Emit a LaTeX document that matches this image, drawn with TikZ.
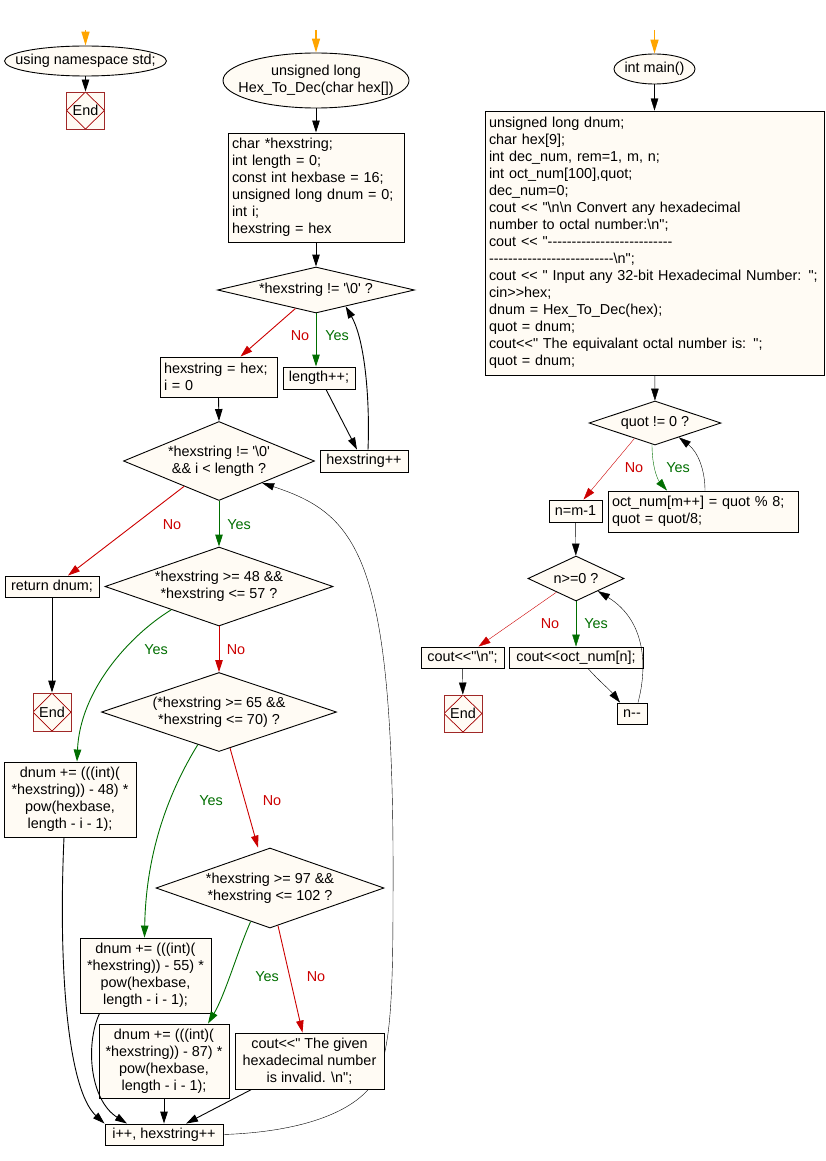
\documentclass[tikz,border=0pt]{standalone}
\usepackage{fontspec}
\setmainfont{Liberation Sans}[Ligatures=TeXOff]
\usetikzlibrary{shapes.geometric,arrows.meta,backgrounds}
\definecolor{boxfill}{RGB}{255,251,244}
\definecolor{yescol}{RGB}{0,110,0}
\definecolor{nocol}{RGB}{204,0,0}
\definecolor{startcol}{RGB}{255,165,0}
\definecolor{endcol}{RGB}{160,40,40}
\newcommand*{\bks}{\textbackslash{}}
\tikzset{
  box/.style={draw, fill=boxfill, inner xsep=4pt, inner ysep=2pt, align=center},
  lbox/.style={box, align=left},
  dec/.style={diamond, draw, fill=boxfill, inner sep=0pt, align=center},
  term/.style={ellipse, draw, fill=boxfill, inner ysep=0pt, align=center},
  endbox/.style={draw=endcol, fill=boxfill, minimum width=38pt, minimum height=37pt, inner sep=0pt,
    path picture={\draw[nocol!80!black, line width=0.7pt] (path picture bounding box.north) -- (path picture bounding box.east) -- (path picture bounding box.south) -- (path picture bounding box.west) -- cycle;}},
  arr/.style={-{Triangle[length=12pt,width=7.5pt]}},
  yesarr/.style={arr, yescol},
  noarr/.style={arr, nocol},
  startarr/.style={startcol, line width=1.5pt, -{Triangle[length=14pt,width=8pt]}},
  yeslab/.style={text=yescol},
  nolab/.style={text=nocol}
}
\begin{document}
\begin{tikzpicture}[x=1pt, y=-1pt, line width=0.9pt, font=\fontsize{14.4}{17}\selectfont]
\useasboundingbox (0,0) rectangle (826,1161);

\coordinate (s1) at (85.5,30);
\coordinate (s2) at (316,30);
\coordinate (s3) at (654.5,30);

\node[term, minimum width=162pt, minimum height=30pt, inner xsep=-14pt] (ns) at (85.5,61) {using namespace std;};
\node[endbox] (end1) at (85.5,110.5) {End};

\node[term, minimum width=186pt, minimum height=55pt, inner xsep=-17pt] (hexfn) at (316,80.5) {unsigned long\\Hex\_To\_Dec(char hex[])};
\node[lbox, text width=168pt, minimum height=109pt] (decl) at (316,187.5) {char *hexstring;\\int length = 0;\\const int hexbase = 16;\\unsigned long dnum = 0;\\int i;\\hexstring = hex};
\node[dec, minimum width=197pt, minimum height=46pt, shape aspect=4.28] (d1) at (316,290) {*hexstring != '\bks0' ?};
\node[lbox, text width=109pt, minimum height=40pt] (hxinit) at (218.5,377) {hexstring = hex;\\i = 0};
\node[box, minimum width=72pt, minimum height=22pt] (len) at (319,378) {length++;};
\node[box, minimum width=88pt, minimum height=22pt] (hxinc) at (364,461) {hexstring++};
\node[dec, minimum width=191pt, minimum height=79pt, shape aspect=2.42] (d2) at (219,461) {*hexstring != '\bks0'\\\&\& i < length ?};
\node[box, minimum width=94pt, minimum height=21pt] (ret) at (52,586.5) {return dnum;};
\node[endbox, minimum height=38pt] (end2) at (52,712) {End};
\node[dec, minimum width=228pt, minimum height=79pt, shape aspect=2.89] (d3) at (219,586.5) {*hexstring >= 48 \&\&\\{}*hexstring <= 57 ?};
\node[dec, minimum width=235pt, minimum height=79pt, shape aspect=2.97] (d4) at (219,712) {(*hexstring >= 65 \&\&\\{}*hexstring <= 70) ?};
\node[box, minimum width=132pt, minimum height=75pt] (add48) at (70,799.5) {dnum += (((int)(\\{}*hexstring)) - 48) *\\pow(hexbase,\\length - i - 1);};
\node[dec, minimum width=228pt, minimum height=80pt, shape aspect=2.85] (d5) at (270,888) {*hexstring >= 97 \&\&\\{}*hexstring <= 102 ?};
\node[box, minimum width=131pt, minimum height=75pt] (add55) at (145.5,975.5) {dnum += (((int)(\\{}*hexstring)) - 55) *\\pow(hexbase,\\length - i - 1);};
\node[box, minimum width=130pt, minimum height=74pt] (add87) at (164,1061) {dnum += (((int)(\\{}*hexstring)) - 87) *\\pow(hexbase,\\length - i - 1);};
\node[box, minimum width=149pt, minimum height=56pt] (inv) at (309.5,1061) {cout<<" The given\\hexadecimal number\\is invalid. \bks n";};
\node[box, minimum width=118pt, minimum height=21pt] (inc) at (164,1134.5) {i++, hexstring++};

\node[term, minimum width=81pt, minimum height=30pt, inner xsep=-2pt] (main) at (654.5,69) {int main()};
\node[lbox, text width=331pt, minimum height=264pt] (body) at (654.5,243) {unsigned long dnum;\\char hex[9];\\int dec\_num, rem=1, m, n;\\int oct\_num[100],quot;\\dec\_num=0;\\cout << "\bks n\bks n Convert any hexadecimal\\number to octal number:\bks n";\\cout << "--------------------------\\--------------------------\bks n";\\cout << " Input any 32-bit Hexadecimal Number: ";\\cin>>hex;\\dnum = Hex\_To\_Dec(hex);\\quot = dnum;\\cout<<" The equivalant octal number is: ";\\quot = dnum;};
\node[dec, minimum width=132pt, minimum height=44pt, shape aspect=3] (dq) at (655,423) {quot != 0 ?};
\node[lbox, text width=182pt, minimum height=41pt] (oct) at (703,511.5) {oct\_num[m++] = quot \% 8;\\quot = quot/8;};
\node[box, minimum width=53pt, minimum height=22pt] (nm) at (575.5,511) {n=m-1};
\node[dec, minimum width=96pt, minimum height=45pt, shape aspect=2.13] (dn) at (576,578.5) {n>=0 ?};
\node[box, minimum width=83pt, minimum height=21pt] (cn) at (462.5,657.5) {cout<<"\bks n";};
\node[box, minimum width=134pt, minimum height=21pt] (co) at (576,657.5) {cout<<oct\_num[n];};
\node[box, minimum width=30pt, minimum height=21pt] (nd) at (632,713.5) {n--};
\node[endbox] (end3) at (463,713.5) {End};

\node[nolab] (no1) at (300,336) {No};
\node[yeslab] (yes1) at (337,336) {Yes};
\node[nolab] (no2) at (172,525) {No};
\node[yeslab] (yes2) at (239,525) {Yes};
\node[yeslab] (yes3) at (156,650) {Yes};
\node[nolab] (no3) at (236,650) {No};
\node[yeslab] (yes4) at (211,801) {Yes};
\node[nolab] (no4) at (272,801) {No};
\node[yeslab] (yes5) at (267,977) {Yes};
\node[nolab] (no5) at (316,977) {No};
\node[nolab] (no6) at (634,468) {No};
\node[yeslab] (yes6) at (678,468) {Yes};
\node[nolab] (no7) at (550,624) {No};
\node[yeslab] (yes7) at (596,624) {Yes};

\draw[startarr] (s1) -- (ns.north);
\draw[arr] (ns) -- (end1);

\draw[startarr] (s2) -- (hexfn.north);
\draw[arr] (hexfn) -- (decl);
\draw[arr] (decl) -- (d1);
\draw[noarr] (d1.222) -- ([xshift=22pt]hxinit.north);
\draw[yesarr] (d1.south) -- (d1.south |- len.north);
\draw[arr] ([xshift=7pt]len.south) -- ([xshift=-7pt]hxinc.north);
\draw[arr] ([xshift=4pt]hxinc.north) .. controls (370,400) and (365,340) .. (d1.331);
\draw[arr] (hxinit.south) -- (d2.north);
\draw[noarr] (d2.216) -- ([xshift=16pt]ret.north);
\draw[yesarr] (d2) -- (d3);
\draw[arr] (ret) -- (end2);
\draw[yesarr] (d3.206) .. controls (130,635) and (80,690) .. ([xshift=7pt]add48.north);
\draw[noarr] (d3) -- (d4);
\draw[yesarr] (d4.237) .. controls (170,790) and (146,850) .. ([xshift=-1pt]add55.north);
\draw[noarr] (d4.287) -- ([xshift=-12pt]d5.north);
\draw[yesarr] (d5.240) .. controls (238,950) and (225,995) .. ([xshift=44pt]add87.north);
\draw[noarr] (d5.282) -- ([xshift=-7pt]inv.north);
\draw[arr] ([xshift=-6pt]add48.south) .. controls (58,970) and (68,1090) .. (inc.north west);
\draw[arr] ([xshift=-46pt]add55.south) .. controls (85,1045) and (90,1100) .. ([xshift=-37pt]inc.north);
\draw[arr] (add87) -- (inc);
\draw[arr] ([xshift=-58pt]inv.south) -- ([xshift=22pt]inc.north);
\begin{pgfonlayer}{background}
\draw[arr] (inc.east) .. controls (300,1132) and (365,1112) .. (380,1070) .. controls (390,1040) and (393,1000) .. (393,900) .. controls (395,560) and (360,515) .. (d2.333);
\end{pgfonlayer}

\draw[startarr] (s3) -- (main.north);
\draw[arr] (main) -- (body);
\draw[arr] (body) -- (dq);
\draw[noarr] (dq.217) -- ([xshift=8pt]nm.north);
\draw[yesarr] (dq.262) .. controls (652,468) and (658,480) .. ([xshift=-36pt]oct.north);
\draw[arr] ([xshift=2pt]oct.north) .. controls (705,470) and (698,452) .. (dq.329);
\draw[arr] (nm) -- (dn);
\draw[noarr] (dn.215) -- ([xshift=16pt]cn.north);
\draw[yesarr] (dn) -- (co);
\draw[arr] (cn) -- (end3);
\draw[arr] ([xshift=12pt]co.south) .. controls (598,680) and (610,690) .. ([xshift=-12pt]nd.north);
\draw[arr] ([xshift=6pt]nd.north) .. controls (648,665) and (645,620) .. (dn.330);
\end{tikzpicture}
\end{document}
